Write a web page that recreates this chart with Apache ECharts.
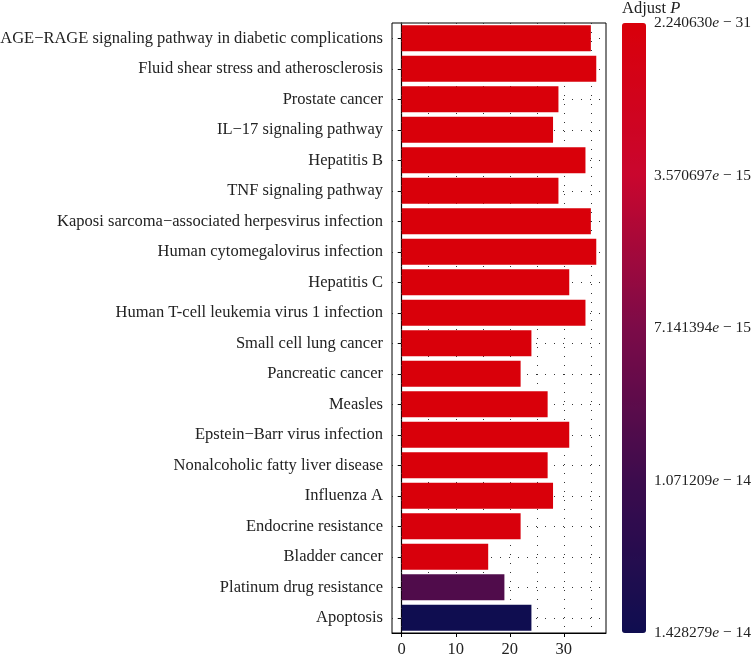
<!DOCTYPE html>
<html><head><meta charset="utf-8">
<script src="https://cdn.jsdelivr.net/npm/echarts@6/dist/echarts.min.js"></script>
<style>html,body{margin:0;padding:0;background:#fff}#c{width:752px;height:656px}</style>
</head><body><div id="c"></div>
<script>
const pathways = [
  'AGE\u2212RAGE signaling pathway in diabetic complications',
  'Fluid shear stress and atherosclerosis',
  'Prostate cancer',
  'IL\u221217 signaling pathway',
  'Hepatitis B',
  'TNF signaling pathway',
  'Kaposi sarcoma\u2212associated herpesvirus infection',
  'Human cytomegalovirus infection',
  'Hepatitis C',
  'Human T-cell leukemia virus 1 infection',
  'Small cell lung cancer',
  'Pancreatic cancer',
  'Measles',
  'Epstein\u2212Barr virus infection',
  'Nonalcoholic fatty liver disease',
  'Influenza A',
  'Endocrine resistance',
  'Bladder cancer',
  'Platinum drug resistance',
  'Apoptosis'
];
const counts = [35, 36, 29, 28, 34, 29, 35, 36, 31, 34, 24, 22, 27, 31, 27, 28, 22, 16, 19, 24];
const adjustP = [2.240630e-31, 5.1e-30, 3.2e-24, 1.4e-23, 2.6e-23, 8.9e-22, 1.2e-21, 4.5e-21, 6.3e-21, 2.1e-20,
                 3.4e-19, 7.2e-19, 1.1e-18, 2.5e-18, 4.8e-18, 9.6e-18, 1.9e-16, 2.3e-16, 9.6e-15, 1.428279e-14];
const xTickValues = [0, 10, 20, 30];
const xGridValues = [0, 5, 10, 15, 20, 25, 30, 35];
const xMin = -1.8, xMax = 37.8;
const pMin = 2.240630e-31, pMax = 1.428279e-14;
const colorbarTicks = [2.240630e-31, 3.570697e-15, 7.141394e-15, 1.071209e-14, 1.428279e-14];
const colorbarMantissa = ['2.240630', '3.570697', '7.141394', '1.071209', '1.428279'];
const colorbarExponent = ['31', '15', '15', '14', '14'];
const colorStops = ['#D9000A', '#C9062E', '#7C0B48', '#3C0C4D', '#0F0D50'];

const FONT = '"Liberation Serif", "DejaVu Serif", serif';
const FS = 16.5;
const FS_CB = 15.5;
const chart = echarts.init(document.getElementById('c'));
const dotted = {type: [1, 8], color: '#333', width: 1};
function rich(fs) {
  return {
    a: {fontFamily: FONT, fontSize: fs, color: '#222', fontWeight: 'normal'},
    i: {fontFamily: FONT, fontSize: fs, color: '#222', fontWeight: 'normal', fontStyle: 'italic'}
  };
}
function cbIndex(v) {
  let best = 0, bd = Infinity;
  colorbarTicks.forEach((t, k) => { const d = Math.abs(t - v); if (d < bd) { bd = d; best = k; } });
  return best;
}

chart.setOption({
  animation: false,
  textStyle: {fontFamily: FONT},
  title: {
    left: 622, top: 0, padding: 0,
    text: '{a|Adjust }{i|P}',
    textStyle: {fontWeight: 'normal', rich: rich(FS)}
  },
  grid: [
    {left: 392, top: 23, width: 214, height: 610, show: true, borderColor: '#000', borderWidth: 1,
     backgroundColor: 'transparent', containLabel: false, outerBoundsMode: 'none'},
    {left: 622, top: 23, width: 24, height: 610, show: false, containLabel: false, outerBoundsMode: 'none'}
  ],
  xAxis: [
    {
      type: 'value', gridIndex: 0, min: xMin, max: xMax,
      axisLine: {show: true, lineStyle: {color: '#000'}},
      axisTick: {show: true, customValues: xTickValues, length: 4, lineStyle: {color: '#000'}},
      axisLabel: {customValues: xTickValues, fontFamily: FONT, fontSize: FS, color: '#222', margin: 8},
      splitLine: {show: false}
    },
    {type: 'value', gridIndex: 1, show: false}
  ],
  yAxis: [
    {
      type: 'category', gridIndex: 0, data: pathways, inverse: true,
      axisLine: {show: true, lineStyle: {color: '#000', width: 1.2}},
      axisTick: {show: true, alignWithLabel: true, length: 4, lineStyle: {color: '#000'}},
      axisLabel: {fontFamily: FONT, fontSize: FS, color: '#222', margin: 9},
      splitLine: {show: false}
    },
    {
      type: 'value', gridIndex: 1, min: pMin, max: pMax, inverse: true, position: 'right',
      axisLine: {show: false},
      axisTick: {show: true, inside: true, customValues: colorbarTicks, length: 5, lineStyle: {color: '#fff', width: 1}},
      axisLabel: {
        customValues: colorbarTicks, margin: 8,
        formatter: function (v) { const i = cbIndex(v); return '{a|' + colorbarMantissa[i] + '}{i|e}{a| \u2212 ' + colorbarExponent[i] + '}'; },
        rich: rich(FS_CB)
      },
      splitLine: {show: false}
    },
    {
      type: 'value', gridIndex: 1, min: pMin, max: pMax, inverse: true, position: 'left',
      axisLine: {show: false},
      axisTick: {show: true, inside: true, customValues: colorbarTicks, length: 5, lineStyle: {color: '#fff', width: 1}},
      axisLabel: {show: false},
      splitLine: {show: false}
    }
  ],
  visualMap: {
    type: 'continuous', seriesIndex: 0, dimension: 2,
    min: pMin, max: pMax, inverse: true, calculable: false,
    left: 622, top: 23, itemWidth: 24, itemHeight: 610, padding: 0,
    text: null, showLabel: false,
    inRange: {color: colorStops}
  },
  series: [{
    type: 'bar', xAxisIndex: 0, yAxisIndex: 0, z: 3,
    data: counts.map((c, i) => [c, pathways[i], adjustP[i]]),
    encode: {x: 0, y: 1},
    barCategoryGap: '14%',
    markLine: {
      silent: true, symbol: 'none', z: 1, label: {show: false},
      lineStyle: dotted, animation: false,
      data: xGridValues.map(v => ({xAxis: v})).concat(pathways.map(p => ({yAxis: p})))
    }
  }]
});
</script></body></html>
